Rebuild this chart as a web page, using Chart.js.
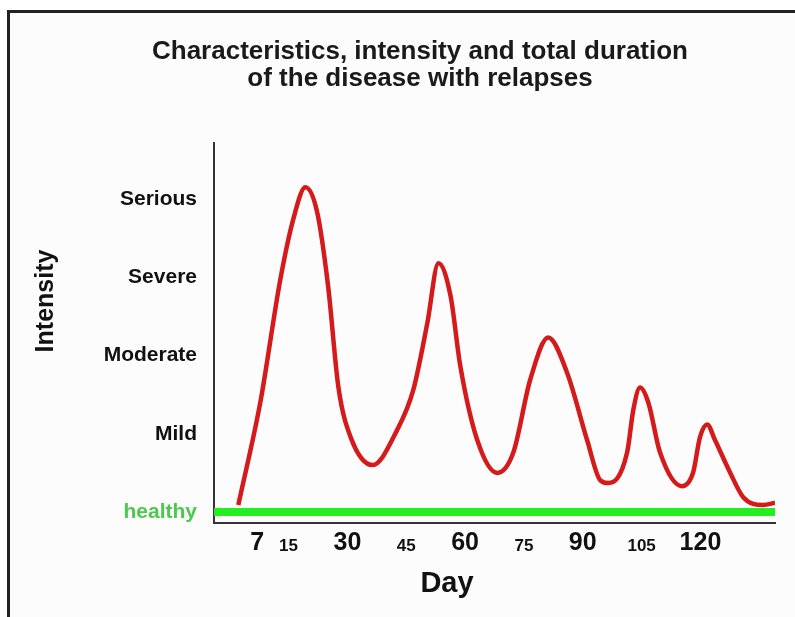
<!DOCTYPE html>
<html>
<head>
<meta charset="utf-8">
<script src="https://cdn.jsdelivr.net/npm/chart.js@4"></script>
<style>
    body { margin: 0; background: #fff; }
    #frame {
        position: absolute; left: 7px; top: 10px; width: 785px; height: 604px;
        border-left: 3px solid #222; border-top: 3px solid #222; background: #fcfcfc;
    }
    #newchart { position: absolute; left: 0; top: 0; }
</style>
</head>
<body>
<div id="frame"></div>
<canvas id="newchart" width="795" height="617"></canvas>
<script>
// data
var dayTicks = [7, 15, 30, 45, 60, 75, 90, 105, 120];
var bigDays = [7, 30, 60, 90, 120];
var levelLabels = ["healthy", "Mild", "Moderate", "Severe", "Serious"];

var curveDays = [2.2, 7.8, 12.9, 16.2, 19.3, 22.3, 25.1, 27.7, 30.8, 36.4,
    42.7, 46.8, 50.4, 53.2, 56.3, 58.8, 63.1, 68.2, 72.3, 76.6,
    81.2, 86.0, 91.1, 94.4, 96.5, 101.3, 102.9, 104.6, 106.7, 109.7,
    115.3, 118.1, 119.9, 121.7, 123.7, 127.6, 130.9, 136.0, 139.0];
var curveIntensity = [0.09, 1.40, 2.97, 3.74, 4.15, 3.83, 2.88, 1.60, 0.96, 0.60,
    1.05, 1.56, 2.42, 3.18, 2.76, 1.86, 0.92, 0.50, 0.76, 1.69,
    2.23, 1.78, 0.92, 0.41, 0.37, 0.76, 1.31, 1.59, 1.40, 0.76,
    0.33, 0.50, 0.96, 1.12, 0.92, 0.50, 0.19, 0.09, 0.12];

var healthyDays = [-4, 139];
var healthyLevel = [0, 0];

Chart.defaults.font.family = "'Liberation Sans', Arial, sans-serif";

// axis titles sit off-centre in the picture, so draw them here
var axisTitles = {
    id: "axisTitles",
    afterDraw: function (chart) {
        var ctx = chart.ctx;
        ctx.save();
        ctx.fillStyle = "#111";
        ctx.font = "bold 29px 'Liberation Sans', Arial, sans-serif";
        ctx.textAlign = "center";
        ctx.textBaseline = "middle";
        ctx.fillText("Day", 447, 584);
        ctx.translate(46, 301);
        ctx.rotate(-Math.PI / 2);
        ctx.font = "bold 25px 'Liberation Sans', Arial, sans-serif";
        ctx.fillText("Intensity", 0, 0);
        ctx.restore();
    }
};

var canvasElement = document.getElementById("newchart");
var config = {
    type: "line",
    data: {
        datasets: [{
                label: "disease",
                data: curveDays.map(function (d, i) { return { x: d, y: curveIntensity[i] }; }),
                borderColor: "#d41a1a",
                borderWidth: 4.5,
                pointRadius: 0,
                cubicInterpolationMode: "monotone",
                fill: false
            },
            {
                label: "healthy",
                data: healthyDays.map(function (d, i) { return { x: d, y: healthyLevel[i] }; }),
                borderColor: "#22ee22",
                borderWidth: 8,
                pointRadius: 0,
                fill: false
            }
        ]
    },
    options: {
        responsive: false,
        animation: false,
        devicePixelRatio: 1,
        layout: {
            padding: { left: 65, right: 20, top: 0, bottom: 0 }
        },
        plugins: {
            legend: { display: false },
            tooltip: { enabled: false },
            title: {
                display: true,
                text: ["Characteristics, intensity and total duration", "of the disease with relapses"],
                color: "#1a1a1a",
                padding: { top: 38, bottom: 50 },
                font: { size: 26, weight: "bold", lineHeight: 1.05 }
            }
        },
        scales: {
            x: {
                type: "linear",
                min: -4,
                max: 139,
                afterBuildTicks: function (s) {
                    s.ticks = dayTicks.map(function (v) { return { value: v }; });
                },
                afterFit: function (s) { s.height = 94; },
                grid: { display: false },
                border: { color: "#333", width: 2 },
                ticks: {
                    padding: 12,
                    crossAlign: "far",
                    color: "#111",
                    autoSkip: false,
                    maxRotation: 0,
                    callback: function (v) { return v; },
                    // big and small day labels share a baseline
                    font: function (ctx) {
                        var big = ctx.tick && bigDays.indexOf(ctx.tick.value) >= 0;
                        return big ? { size: 25, weight: "bold", lineHeight: "30px" }
                                   : { size: 17, weight: "bold", lineHeight: "27px" };
                    }
                }
            },
            y: {
                type: "linear",
                min: -0.14,
                max: 4.72,
                afterBuildTicks: function (s) {
                    s.ticks = levelLabels.map(function (l, i) { return { value: i }; });
                },
                afterFit: function (s) { s.width = 149; },
                grid: { display: false },
                border: { color: "#333", width: 2 },
                ticks: {
                    padding: 9,
                    callback: function (v) { return levelLabels[v]; },
                    color: function (ctx) {
                        return ctx.tick && ctx.tick.value === 0 ? "#4cc94c" : "#111";
                    },
                    font: { size: 21, weight: "bold" }
                }
            }
        }
    },
    plugins: [axisTitles]
};
var newchart = new Chart(canvasElement, config);
</script>
</body>
</html>
